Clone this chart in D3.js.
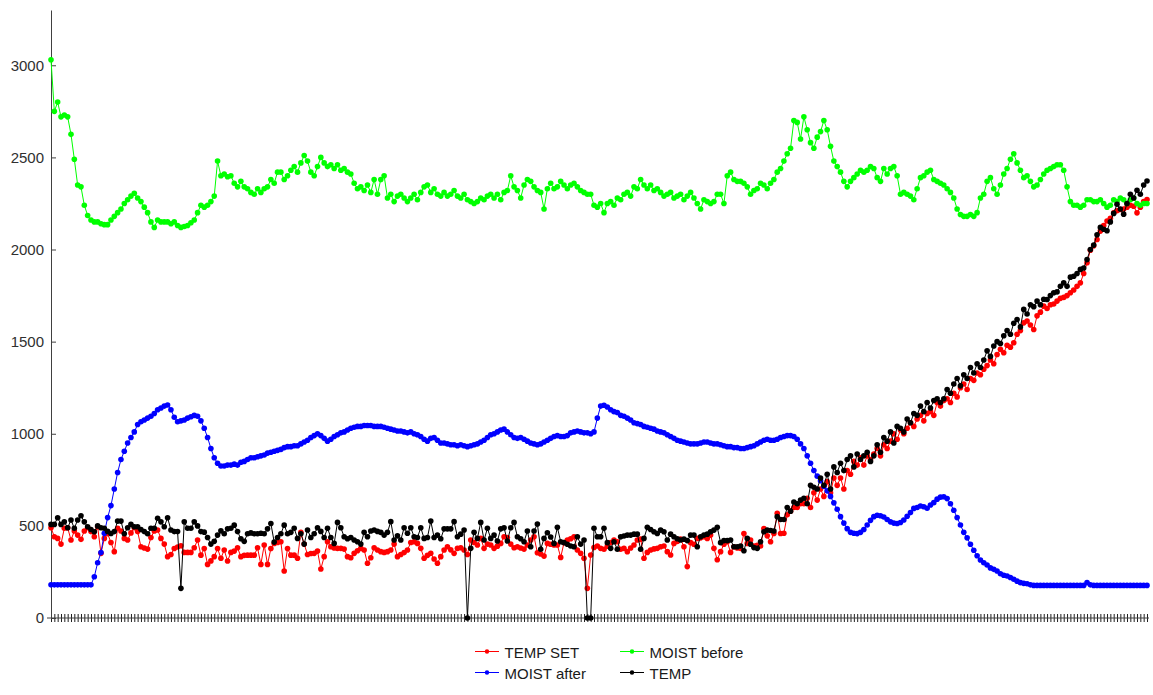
<!DOCTYPE html>
<html><head><meta charset="utf-8">
<script src="https://cdn.jsdelivr.net/npm/d3@7/dist/d3.min.js"></script>
<style>
body{margin:0;background:#fff;}
svg{display:block;font-family:"Liberation Sans",Arial,sans-serif;}
</style>
</head><body>
<svg id="chart" width="1153" height="695"></svg>
<script>
// ---- data ----
const seriesNames = ["TEMP SET", "MOIST after", "MOIST before", "TEMP"];
const seriesColors = ["#ff0000", "#0000ff", "#00ff00", "#000000"];
const yTickValues = [0, 500, 1000, 1500, 2000, 2500, 3000];
const yMax = 3300;

const tempSet = [
490,441,432,401,487,490,423,472,450,427,
472,490,469,441,495,351,432,457,410,360,
487,472,432,423,462,490,469,387,380,374,
437,472,478,432,401,333,345,377,385,392,
356,356,356,381,423,341,377,291,310,333,
377,324,369,309,356,363,381,333,340,341,
341,341,381,291,396,291,377,405,410,414,
255,377,
341,341,324,465,401,345,350,351,363,266,
333,414,387,380,378,378,374,333,327,351,
365,378,369,297,327,381,369,360,356,360,
369,401,333,345,355,369,410,414,405,378,
324,340,351,320,297,333,369,387,370,351,
378,381,369,345,423,410,396,432,378,401,
396,378,390,405,441,437,401,381,387,380,
374,396,423,
441,354,347,336,405,400,396,396,329,409,
423,430,441,369,351,324,161,342,383,391,
378,373,390,409,423,414,373,378,360,380,
396,423,428,324,356,369,375,378,387,391,
360,342,405,415,428,387,279,409,400,432,
435,441,432,450,378,316,360,400,414,356,
387,380,378,459,405,423,391,395,391,486,
446,414,459,568,459,
460,560,580,600,600,620,620,650,600,680,
640,700,660,740,680,760,720,760,700,800,
780,850,830,870,830,880,860,890,920,880,
940,920,960,1000,970,1020,1000,1030,1060,1040,
1080,1100,1070,1110,1120,1100,1170,1150,1180,1190,
1170,1220,1200,1250,1270,1240,1300,1290,1330,1320,
1350,1370,1400,1380,1430,1458,1440,1480,1470,1494,
1540,1560,1602,1612,1590,1566,1640,1660,1693,1680,
1700,1704,1720,1735,1740,1750,1765,1780,1800,1819,
1870,1928,1996,2020,2054,2100,2130,2155,2170,2199,
2210,2217,2220,2230,2240,2235,2199,2230,2260,2271
];

const moistAfter = [
180,180,180,180,180,180,180,180,180,180,
180,180,180,224,300,355,460,545,610,700,
790,860,905,950,980,1010,1050,1065,1075,1085,
1095,1110,1130,1140,1150,1156,1130,1090,1065,1070,
1075,1085,1092,1100,1095,1070,1030,980,920,870,
840,825,825,830,830,835,830,845,850,860,
870,870,875,880,885,895,900,905,910,915,
925,930,930,935,935,945,955,965,980,990,
1000,990,975,960,970,985,995,1005,1010,1020,
1030,1035,1040,1040,1045,1045,1045,1040,1040,1040,
1035,1030,1025,1020,1015,1015,1010,1005,1010,1000,
995,985,970,960,975,980,965,950,950,945,
940,940,935,940,935,930,935,940,945,955,
965,980,995,1000,1010,1020,1025,1010,995,980,
975,980,970,960,950,945,940,945,955,965,
975,985,990,985,985,990,1005,1010,1015,1010,
1005,1005,1000,1010,1085,1150,1155,1145,1130,1120,
1115,1100,1095,1085,1075,1060,1055,1050,1040,1035,
1030,1025,1015,1010,1005,995,985,975,965,960,
955,950,945,945,945,950,955,955,950,945,
945,940,935,930,930,925,925,920,920,925,
930,935,945,955,965,970,965,965,970,980,
985,990,990,985,970,945,920,880,840,800,
770,745,715,690,660,625,590,550,515,485,
465,460,458,465,480,505,530,550,558,555,
548,535,522,515,513,518,532,552,572,595,
600,608,604,596,613,626,645,656,658,648,
620,585,545,505,465,435,400,368,338,315,
300,288,272,264,255,240,232,228,220,210,
200,192,188,186,180,177,177,177,177,177,
177,177,177,177,177,177,177,177,177,177,
177,192,180,177,177,177,177,177,177,177,
177,177,177,177,177,177,177,177,177,177
];

const moistBefore = [
3030,2750,2800,2720,2730,2720,2625,2490,2350,2340,
2240,2185,2160,2150,2150,2140,2135,2135,2160,2180,
2200,2220,2250,2270,2290,2305,2280,2260,2230,2200,
2150,2120,2160,2150,2150,2150,2140,2150,2130,2120,
2125,2130,2145,2160,2200,2240,2230,2240,2260,2290,
2480,2400,2410,2395,2400,2360,2340,2370,2340,2330,
2310,2300,2330,2310,2330,2340,2380,2360,2420,2420,
2380,2400,2430,2450,2420,2470,2510,2480,2420,2400,
2450,2500,2470,2450,2460,2440,2460,2430,2440,2420,
2410,2360,2330,2340,2320,2350,2310,2380,2300,2380,
2400,2280,2300,2260,2290,2300,2280,2260,2280,2300,
2270,2310,2340,2350,2310,2330,2300,2290,2310,2290,
2300,2320,2290,2280,2300,2270,2260,2250,2260,2280,
2270,2290,2300,2280,2300,2270,2310,2320,2400,2340,
2320,2280,2350,2380,2370,2340,2320,2310,2220,2330,
2360,2330,2340,2370,2350,2330,2350,2360,2340,2320,
2310,2300,2300,2240,2230,2250,2200,2250,2260,2240,
2280,2270,2300,2310,2290,2340,2330,2380,2350,2330,
2350,2320,2330,2310,2290,2300,2310,2280,2290,2300,
2270,2290,2310,2280,2250,2220,2270,2260,2250,2260,
2300,2300,2250,2400,2420,2380,2370,2370,2360,2340,
2300,2320,2330,2360,2350,2330,2360,2380,2420,2440,
2480,2520,2550,2700,2690,2600,2720,2650,2580,2550,
2610,2640,2700,2650,2560,2480,2450,2420,2370,2340,
2370,2390,2410,2430,2420,2430,2450,2440,2390,2370,
2440,2410,2440,2450,2400,2300,2310,2300,2290,2270,
2330,2390,2400,2420,2430,2380,2370,2360,2350,2330,
2310,2280,2220,2190,2180,2180,2190,2180,2200,2280,
2300,2370,2390,2330,2300,2350,2410,2440,2490,2520,
2470,2430,2390,2400,2370,2340,2350,2380,2410,2430,
2440,2450,2460,2460,2430,2340,2260,2240,2240,2230,
2240,2270,2270,2260,2260,2270,2250,2230,2240,2270,
2260,2280,2270,2250,2270,2280,2250,2240,2250,2250
];

const temp = [
508,508,544,508,522,490,532,487,532,555,
522,495,480,468,500,490,487,470,459,469,
526,526,457,490,508,495,495,480,469,457,
487,487,541,522,495,544,478,469,469,161,
522,487,487,522,500,469,466,437,401,416,
450,473,457,484,487,504,469,430,416,457,
462,457,457,460,457,484,513,412,437,457,
504,457,
465,487,432,457,401,478,437,457,490,470,
437,487,437,405,519,490,441,430,437,423,
414,401,465,441,472,478,470,465,450,465,
523,423,446,423,490,460,490,441,437,490,
432,437,526,437,450,430,484,484,484,523,
441,455,478,0,378,465,432,519,423,487,
432,450,418,484,490,418,490,519,441,430,
414,472,387,
472,510,373,432,463,440,405,492,414,409,
400,391,387,441,401,423,0,0,487,441,
441,487,409,378,414,373,441,445,450,450,
455,455,373,432,492,480,468,459,477,468,
423,455,441,430,423,428,420,450,450,387,
441,450,455,468,477,492,409,420,420,423,
387,387,391,365,432,400,382,378,414,468,
477,475,472,550,535,
535,600,580,630,620,640,650,620,720,710,
700,760,720,780,700,820,790,840,800,860,
880,820,890,860,880,900,850,880,940,900,
980,960,1010,950,1040,1030,1010,1080,1060,1110,
1100,1150,1120,1170,1140,1180,1190,1170,1190,1240,
1220,1270,1300,1260,1320,1300,1360,1330,1380,1360,
1400,1450,1420,1476,1500,1490,1532,1560,1540,1600,
1620,1580,1675,1650,1700,1690,1720,1700,1730,1729,
1750,1765,1770,1800,1819,1800,1850,1855,1870,1892,
1900,1946,2000,2024,2080,2120,2110,2102,2150,2196,
2246,2220,2192,2250,2300,2280,2322,2300,2350,2372
];

const seriesValues = [tempSet, moistAfter, moistBefore, temp];

// ---- chart ----
const svg = d3.select("#chart");
const n = d3.max(seriesValues, s => s.length);
const x = d3.scaleLinear().domain([0, n - 1]).range([51, 1147]);
const y = d3.scaleLinear().domain([0, yMax]).range([618, 10]);
const axisColor = "#404040";

// x axis
const xAxis = svg.append("g").attr("transform", `translate(0,${y(0)})`)
  .call(d3.axisBottom(x).tickValues(d3.range(n)).tickFormat("").tickSize(4).tickSizeOuter(0));
xAxis.select(".domain").remove();
xAxis.selectAll(".tick line").attr("stroke", "#202020").attr("y1", -4).attr("y2", 4);
xAxis.append("line").attr("x1", 47).attr("x2", 1149).attr("stroke", axisColor);

// y axis
const yAxis = svg.append("g").attr("transform", `translate(${x(0)},0)`)
  .call(d3.axisLeft(y).tickValues(yTickValues).tickFormat(d3.format("d"))
    .tickSize(4).tickPadding(3).tickSizeOuter(0));
yAxis.select(".domain").attr("stroke", axisColor);
yAxis.selectAll(".tick line").attr("stroke", axisColor).attr("x2", 5);
yAxis.selectAll(".tick text").attr("font-size", 15).attr("fill", "#303030")
  .attr("font-family", '"Liberation Sans", Arial, sans-serif');

// series
const line = d3.line().x((d, i) => x(i)).y(d => y(d));
seriesValues.forEach((vals, k) => {
  const g = svg.append("g");
  g.append("path").datum(vals).attr("d", line)
    .attr("fill", "none").attr("stroke", seriesColors[k]).attr("stroke-width", 1);
  g.selectAll("circle").data(vals).join("circle")
    .attr("cx", (d, i) => x(i)).attr("cy", d => y(d)).attr("r", 2.8)
    .attr("fill", seriesColors[k]);
});

// legend (two columns, column-major)
const legend = svg.append("g");
seriesNames.forEach((name, k) => {
  const col = Math.floor(k / 2), row = k % 2;
  const lx = 475 + col * 145;
  const base = 658 + row * 21;
  const ly = base - 6.5;
  legend.append("line").attr("x1", lx).attr("x2", lx + 24).attr("y1", ly).attr("y2", ly)
    .attr("stroke", seriesColors[k]).attr("stroke-width", 1);
  legend.append("circle").attr("cx", lx + 12).attr("cy", ly).attr("r", 2.2).attr("fill", seriesColors[k]);
  legend.append("text").attr("x", lx + 29.5).attr("y", base).attr("font-size", 15)
    .attr("fill", "#1a1a1a").text(name);
});
</script>
</body></html>
